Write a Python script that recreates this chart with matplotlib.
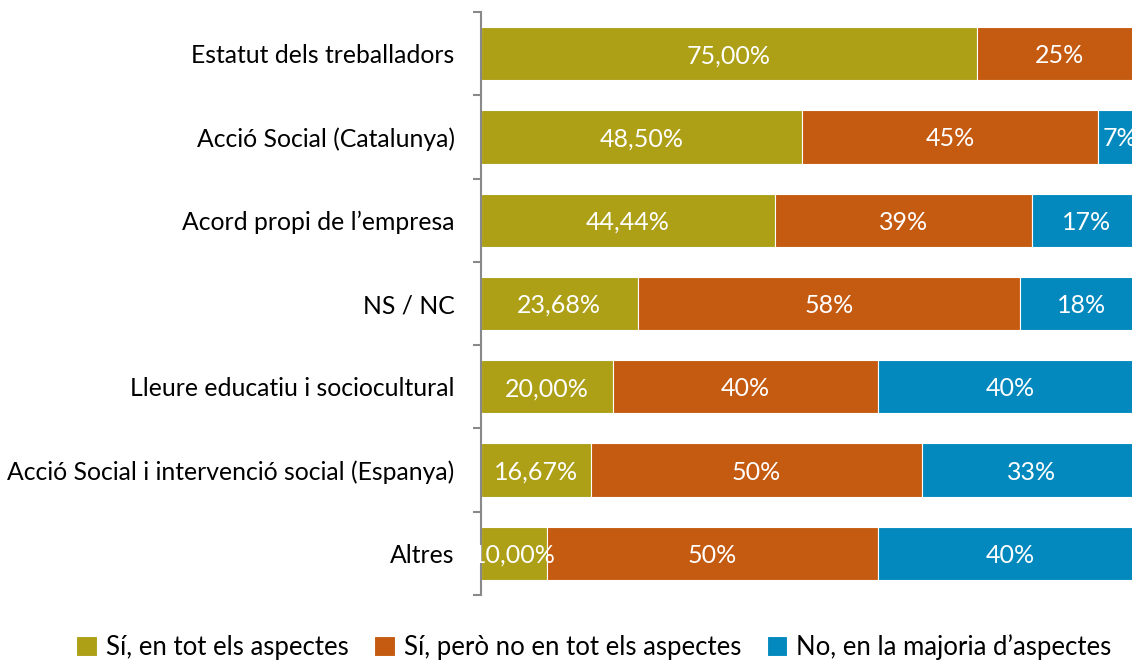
import numpy as np
import matplotlib.pyplot as plt

plt.rcParams['font.family'] = ['Lato', 'DejaVu Sans']

categories = ["Estatut dels treballadors", "Acció Social (Catalunya)", "Acord propi de l’empresa",
              "NS / NC", "Lleure educatiu i sociocultural",
              "Acció Social i intervenció social (Espanya)", "Altres"]
si_tot = [75.00, 48.50, 44.44, 23.68, 20.00, 16.67, 10.00]
si_no_tot = [25.00, 44.90, 38.89, 57.89, 40.00, 50.00, 50.00]
no_majoria = [0.00, 6.60, 16.67, 18.42, 40.00, 33.33, 40.00]
series_names = ["Sí, en tot els aspectes", "Sí, però no en tot els aspectes", "No, en la majoria d’aspectes"]
colors = ["#AD9F16", "#C55A11", "#0389BE"]

fig = plt.figure(figsize=(11.32, 6.60), dpi=100)
ax = fig.add_axes([481 / 1132, 1 - 595 / 660, (1142 - 481) / 1132, (595 - 12) / 660])

y = np.arange(len(categories))
left = np.zeros(len(categories))
for i, (vals, name, col) in enumerate(zip([si_tot, si_no_tot, no_majoria], series_names, colors)):
    vals = np.array(vals)
    ax.barh(y, vals, left=left, height=0.64, color=col, edgecolor="white", linewidth=0.8, label=name)
    for yy, l, v in zip(y, left, vals):
        if v <= 0:
            continue
        if i == 0:
            txt = f"{v:.2f}%".replace('.', ',')
        else:
            txt = f"{int(v + 0.5)}%"
        ax.text(l + v / 2, yy, txt, ha="center", va="center_baseline", color="white", fontsize=18)
    left = left + vals

ax.set_xlim(0, 100)
ax.set_ylim(len(categories) - 0.5, -0.5)
ax.set_xticks([])
ax.set_yticks(y)
ax.set_yticklabels(categories, fontsize=17.8)
ax.set_yticks(np.arange(-0.5, len(categories), 1), minor=True)
ax.tick_params(axis="y", which="major", length=0, pad=19)
ax.tick_params(axis="y", which="minor", length=6, color="#898989", width=1.5)
for s in ["top", "right", "bottom"]:
    ax.spines[s].set_visible(False)
ax.spines["left"].set_color("#898989")
ax.spines["left"].set_linewidth(1.5)

handles, labels = ax.get_legend_handles_labels()
fig.legend(handles, labels, loc="center", bbox_to_anchor=(594 / 1132, 1 - 647 / 660), ncol=3,
           frameon=False, fontsize=18.5, handlelength=0.8, handleheight=0.8, handletextpad=0.35,
           columnspacing=1.0)

fig.savefig("out.png", dpi=100)
